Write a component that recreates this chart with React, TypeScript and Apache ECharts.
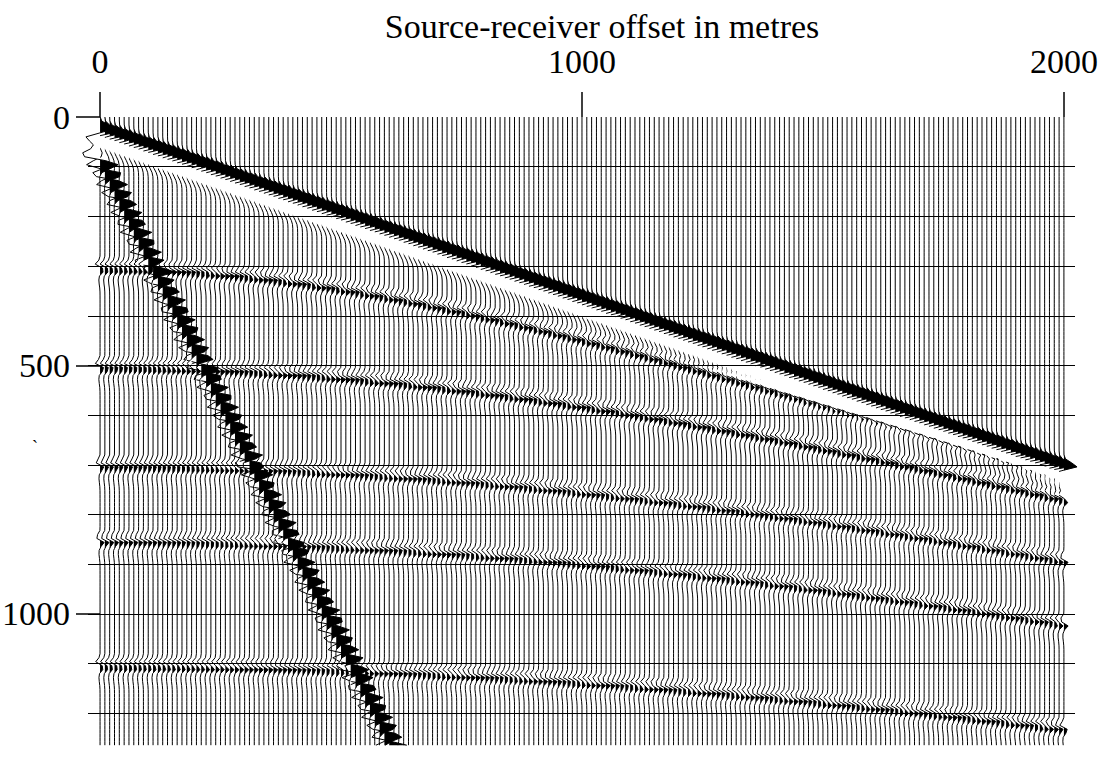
import React, { useEffect, useRef } from "react";
import * as echarts from "echarts";

// ---- Acquisition geometry (receiver offsets, metres) ----
const TRACE_SPACING = 10;
const OFFSETS: number[] = Array.from({ length: 201 }, (_, i) => i * TRACE_SPACING);

// ---- Time axis (ms) ----
const T_MAX = 1265;
const SAMPLE_MS = 8;

// ---- Events ----
const EVENT_NAMES = ["direct", "R1", "R2", "R3", "R4", "R5", "ground roll"];
const EVENT_KIND = ["linear", "hyper", "hyper", "hyper", "hyper", "hyper", "linear"];
const EVENT_T0 = [32, 302, 501, 700, 851, 1102, 86]; // ms at zero offset
const EVENT_V = [2.94, 3.05, 3.44, 3.63, 3.58, 3.68, 0.513]; // m per ms
const EVENT_AMP = [28, 10, 10, 9, 9, 9, 38]; // peak deflection, metres of offset
const EVENT_POLARITY = [1, -1, -1, -1, -1, -1, -1]; // sign of first lobe
const EVENT_SIGMA = [9, 6, 6, 6, 6, 6, 10]; // ms
const EVENT_TAIL = [0.3, 0.25, 0.25, 0.25, 0.25, 0.25, 0.05];

// ---- Tick labels ----
const X_TICKS = [0, 1000, 2000];
const Y_TICKS = [0, 500, 1000];

function eventTime(i: number, x: number): number {
  if (EVENT_KIND[i] === "linear") return EVENT_T0[i] + x / EVENT_V[i];
  const m = x / EVENT_V[i];
  return Math.sqrt(EVENT_T0[i] * EVENT_T0[i] + m * m);
}

function amplitude(x: number, t: number): number {
  let s = 0;
  for (let i = 0; i < EVENT_NAMES.length; i++) {
    const tau = t - eventTime(i, x);
    if (tau < -60 || tau > 90) continue;
    const sg = EVENT_SIGMA[i];
    const w = EVENT_POLARITY[i] * -(tau / sg) * Math.exp(0.5 - (tau * tau) / (2 * sg * sg));
    const tl = (tau - 26) / 14;
    const tail = -EVENT_TAIL[i] * Math.exp(-tl * tl);
    s += EVENT_AMP[i] * (w + tail);
  }
  return s;
}

const FONT = '"Liberation Serif", "Times New Roman", serif';

export default function App() {
  const ref = useRef<HTMLDivElement>(null);
  useEffect(() => {
    if (!ref.current) return;
    const chart = echarts.init(ref.current, undefined, { renderer: "svg" });
    const bottom = 764 - 745.7;
    const plain = (v: number) => String(v);
    // traces are painted from the far offset back to zero offset
    const drawOrder = OFFSETS.slice().reverse();
    const option: any = {
      animation: false,
      backgroundColor: "#ffffff",
      grid: [
        { left: 88, right: 28, top: 117, bottom, outerBoundsMode: "none", containLabel: false },
        { left: 100, right: 39, top: 117, bottom, outerBoundsMode: "none", containLabel: false },
      ],
      xAxis: [
        { gridIndex: 0, type: "value", min: -25, max: 2023, show: false },
        {
          gridIndex: 1,
          type: "value",
          min: X_TICKS[0],
          max: X_TICKS[X_TICKS.length - 1],
          interval: X_TICKS[1] - X_TICKS[0],
          position: "top",
          offset: 12,
          axisLine: { show: false },
          axisTick: { show: true, length: 25, lineStyle: { color: "#000", width: 1.5 } },
          axisLabel: { margin: 32, fontSize: 34, lineHeight: 24, fontFamily: FONT, color: "#000", formatter: plain },
          splitLine: { show: false },
        },
      ],
      yAxis: [
        {
          gridIndex: 0,
          type: "value",
          min: 0,
          max: T_MAX,
          interval: 100,
          inverse: true,
          z: 5,
          axisLine: { show: false },
          axisTick: { show: false },
          axisLabel: { show: false },
          splitLine: { show: true, showMinLine: false, showMaxLine: false, lineStyle: { color: "#000", width: 1.2 } },
        },
        {
          gridIndex: 1,
          type: "value",
          min: 0,
          max: T_MAX,
          interval: Y_TICKS[1] - Y_TICKS[0],
          inverse: true,
          offset: 12,
          axisLine: { show: false },
          axisTick: { show: true, length: 24, lineStyle: { color: "#000", width: 1.5 } },
          axisLabel: { margin: 18, fontSize: 34, lineHeight: 26, fontFamily: FONT, color: "#000", showMaxLabel: false, formatter: plain },
          splitLine: { show: false },
        },
      ],
      graphic: [
        {
          type: "text",
          x: 602,
          y: 26,
          style: {
            text: "Source-receiver offset in metres",
            fontSize: 34,
            lineHeight: 24,
            fontFamily: FONT,
            fill: "#000",
            align: "center",
            verticalAlign: "middle",
          },
        },
        {
          type: "text",
          x: 35,
          y: 447,
          style: { text: "`", fontSize: 18, fontFamily: FONT, fill: "#000", align: "center", verticalAlign: "middle" },
        },
      ],
      series: [
        {
          type: "custom",
          xAxisIndex: 0,
          yAxisIndex: 0,
          clip: false,
          z: 2,
          data: drawOrder.map((x) => [x, 0]),
          encode: { x: 0, y: 1 },
          renderItem: (params: any, api: any) => {
            const X = api.value(0) as number;
            const ts: number[] = [];
            const as: number[] = [];
            for (let t = 0; t <= T_MAX; t += SAMPLE_MS) {
              ts.push(t);
              as.push(amplitude(X, t));
            }
            const pts: [number, number][] = [];
            for (let k = 0; k < ts.length; k++) {
              if (k > 0) {
                const a0 = as[k - 1];
                const a1 = as[k];
                if ((a0 > 0 && a1 < 0) || (a0 < 0 && a1 > 0)) {
                  const f = a0 / (a0 - a1);
                  pts.push([0, ts[k - 1] + f * (ts[k] - ts[k - 1])]);
                }
              }
              pts.push([as[k], ts[k]]);
            }
            const line: number[][] = [];
            const pos: number[][] = [];
            const neg: number[][] = [];
            for (const [a, t] of pts) {
              line.push(api.coord([X + a, t]));
              pos.push(api.coord([X + Math.max(a, 0), t]));
              neg.push(api.coord([X + Math.min(a, 0), t]));
            }
            const lastT = ts[ts.length - 1];
            const bTop = api.coord([X, 0]);
            const bBot = api.coord([X, lastT]);
            pos.push(bBot, bTop);
            neg.push(bBot, bTop);
            return {
              type: "group",
              children: [
                { type: "polygon", shape: { points: neg }, style: { fill: "#ffffff", stroke: null } },
                { type: "polygon", shape: { points: pos }, style: { fill: "#000000", stroke: null } },
                { type: "polyline", shape: { points: line }, style: { stroke: "#000000", lineWidth: 1, fill: null } },
              ],
            };
          },
        },
      ],
    };
    chart.setOption(option);
    return () => chart.dispose();
  }, []);
  return (
    <div
      ref={ref}
      style={{ position: "fixed", left: 0, top: 0, width: 1103, height: 764, background: "#fff" }}
    />
  );
}
